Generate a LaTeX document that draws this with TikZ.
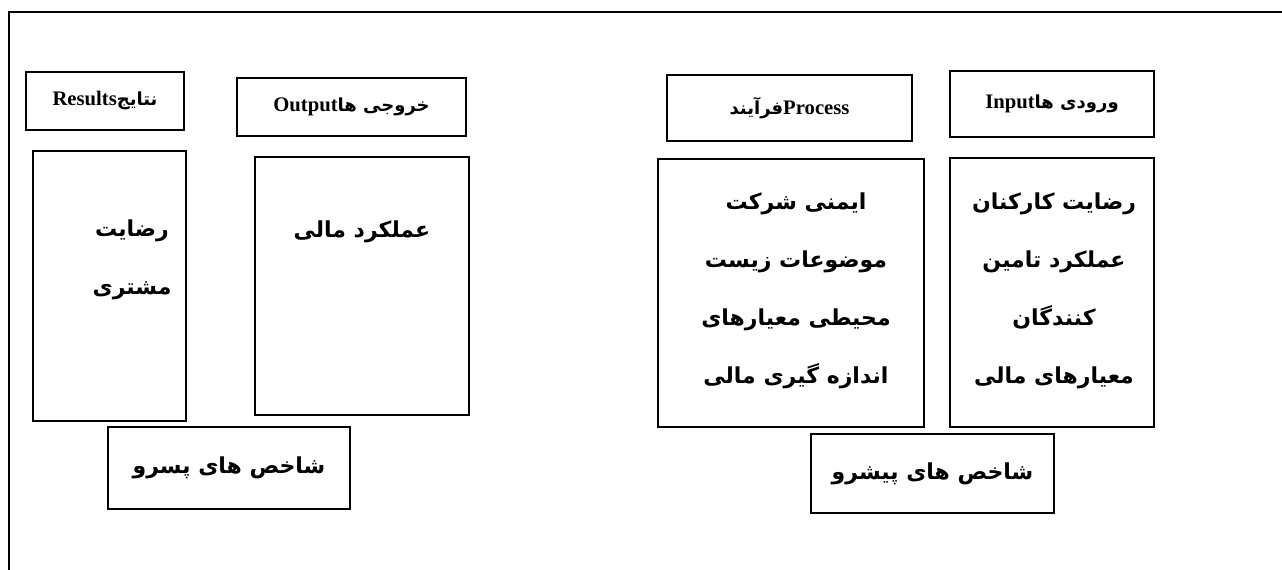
\documentclass[tikz,border=0pt]{standalone}
\usepackage{fontspec}
\setmainfont{Liberation Serif}
\newfontfamily\farsifont[Script=Arabic]{DejaVu Sans}
\TeXXeTstate=1
\usetikzlibrary{positioning,fit}
\newcommand{\fahead}[1]{{\farsifont\fontsize{13.5}{16}\selectfont #1}}

\begin{document}
\begin{tikzpicture}[x=0.75pt,y=-0.75pt,
    panel/.style={draw, line width=1.3pt, inner sep=0pt},
    headtxt/.style={font=\fontsize{15.5}{18}\selectfont\bfseries},
    bodytxt/.style={align=center, inner sep=0pt,
      font=\farsifont\bfseries\fontsize{16.5}{43.5}\selectfont}]
    \useasboundingbox (0,0) rectangle (1282,570);
    \draw[line width=1.3pt] (9,580) |- (1295,12);

    % headers
    \node[panel, fit={(26,72) (184,130)}] (reshead) {};
    \node[panel, fit={(237,78) (466,136)}] (outhead) {};
    \node[panel, fit={(667,75) (912,141)}] (prochead) {};
    \node[panel, fit={(950,71) (1154,137)}] (inhead) {};
    \node[headtxt] (reslbl) at (reshead)
      {\beginR\fahead{نتایج}\beginL Results\endL\endR};
    \node[headtxt] (outlbl) at (outhead)
      {\beginR\fahead{خروجی ها}\beginL Output\endL\endR};
    \node[headtxt] (proclbl) at (prochead)
      {\beginR\beginL Process\endL\fahead{فرآیند}\endR};
    \node[headtxt] (inlbl) at (inhead)
      {\beginR\fahead{ورودی ها}\beginL Input\endL\endR};

    % bodies
    \node[panel, fit={(33,151) (186,421)}] (resbody) {};
    \node[panel, fit={(255,157) (469,415)}] (outbody) {};
    \node[panel, fit={(658,159) (924,427)}] (procbody) {};
    \node[panel, fit={(950,158) (1154,427)}] (inbody) {};

    \node[bodytxt, anchor=base] (restxt) at (132,295)
      {\beginR رضایت\endR\\\beginR مشتری\endR};
    \node[bodytxt, anchor=base] (outtxt) at (362,238)
      {\beginR عملکرد مالی\endR};
    \node[bodytxt, anchor=base] (proctxt) at (796,383)
      {\beginR ایمنی شرکت\endR\\\beginR موضوعات زیست\endR\\
       \beginR محیطی معیارهای\endR\\\beginR اندازه گیری مالی\endR};
    \node[bodytxt, anchor=base] (intxt) at (1054,383)
      {\beginR رضایت کارکنان\endR\\\beginR عملکرد تامین\endR\\
       \beginR کنندگان\endR\\\beginR معیارهای مالی\endR};

    % footers
    \node[panel, fit={(108,427) (350,509)}] (lagbox) {};
    \node[panel, fit={(811,434) (1054,513)}] (leadbox) {};
    \node[bodytxt] (laglbl) at (lagbox) {\beginR شاخص های پسرو\endR};
    \node[bodytxt] (leadlbl) at (leadbox) {\beginR شاخص های پیشرو\endR};
  \end{tikzpicture}
\end{document}
